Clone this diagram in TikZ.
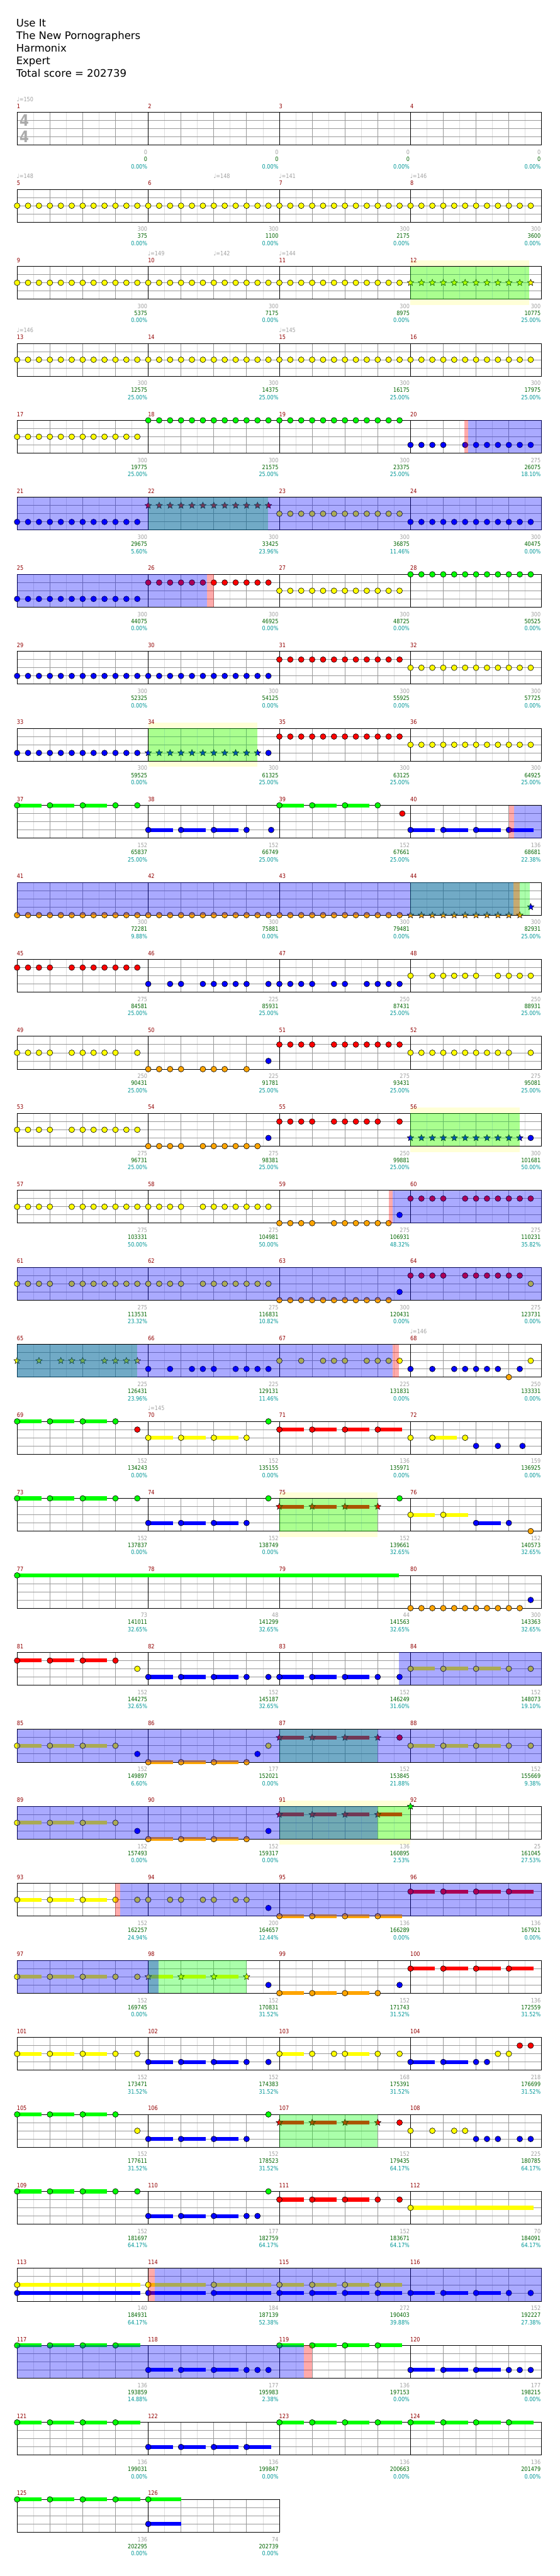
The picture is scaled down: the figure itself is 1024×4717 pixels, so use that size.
\documentclass[tikz,border=0pt]{standalone}
\usepackage{fontspec}
\setmainfont{DejaVu Sans}
\newfontfamily\chartfont[FakeStretch=0.85]{DejaVu Sans}
\usetikzlibrary{shapes.geometric}
\definecolor{lanegreen}{RGB}{0,255,0}
\definecolor{lanered}{RGB}{255,0,0}
\definecolor{laneyellow}{RGB}{255,255,0}
\definecolor{laneblue}{RGB}{0,0,255}
\definecolor{laneorange}{RGB}{255,165,0}
\colorlet{lane0}{lanegreen}
\colorlet{lane1}{lanered}
\colorlet{lane2}{laneyellow}
\colorlet{lane3}{laneblue}
\colorlet{lane4}{laneorange}
\definecolor{barred}{RGB}{145,0,0}
\definecolor{softgray}{RGB}{160,160,160}
\definecolor{tsgray}{RGB}{170,170,170}
\definecolor{totgreen}{RGB}{0,100,0}
\definecolor{pctteal}{RGB}{0,150,150}
\definecolor{subgray}{RGB}{221,221,221}
\definecolor{linegray}{RGB}{153,153,153}
\definecolor{bandyellow}{RGB}{255,255,215}

% x of bar #1 at offset #2, top of its staff
\newcommand\barpos[2]{%
  \pgfmathtruncatemacro\barrow{(#1-1)/4}%
  \pgfmathsetmacro\barx{31.3+240*mod(#1-1,4)+#2}%
  \pgfmathsetmacro\bary{205.7+141*\barrow}%
}
% one staff: row, number of bars
\newcommand\staffrow[2]{%
  \pgfmathsetmacro\rowtop{205.7+141*#1}%
  \pgfmathsetmacro\rowend{31.3+240*#2}%
  \foreach \j in {1,...,#2} {%
    \pgfmathsetmacro\xb{31.3+240*(\j-1)}%
    \foreach \o in {30,90,150,210}
      \draw[subbeat] ({\xb+\o},\rowtop) -- ({\xb+\o},{\rowtop+60});
  }%
  \foreach \l in {15,30,45}
    \draw[beatline] (31.3,{\rowtop+\l}) -- (\rowend,{\rowtop+\l});
  \foreach \j in {1,...,#2} {%
    \pgfmathsetmacro\xb{31.3+240*(\j-1)}%
    \foreach \o in {60,120,180}
      \draw[beatline] ({\xb+\o},\rowtop) -- ({\xb+\o},{\rowtop+60});
  }%
  \foreach \j in {2,...,#2} {%
    \pgfmathsetmacro\xb{31.3+240*(\j-1)}%
    \draw[barline] (\xb,\rowtop) -- (\xb,{\rowtop+60});
  }%
  \draw[barline] (31.3,\rowtop) rectangle (\rowend,{\rowtop+60});
}
% notes: bar, lane, offsets
\newcommand\gems[3]{%
  \foreach \o in {#3} {%
    \barpos{#1}{\o}%
    \filldraw[gem, fill=lane#2] (\barx,{\bary+15*#2}) circle[radius=5.2];
  }}
\newcommand\stargems[3]{%
  \foreach \o in {#3} {%
    \barpos{#1}{\o}%
    \node[spstar, fill=lane#2] (star#1x#2x\o) at (\barx,{\bary+15*#2}) {};
  }}
% sustain: bar, lane, from, to
\newcommand\tail[4]{%
  \barpos{#1}{#3}\let\tailx\barx
  \barpos{#1}{#4}%
  \draw[sustain, lane#2] (\tailx,{\bary+15*#2}) -- (\barx,{\bary+15*#2});}
\newcommand\tails[3]{\foreach \o in {#3} {\tail{#1}{#2}{\o}{\o+45}}}
% shaded zones: style, bar, offset, bar, offset
\newcommand\zone[5]{%
  \barpos{#2}{#3}\let\zonex\barx
  \barpos{#4}{#5}%
  \fill[#1] (\zonex,\bary) rectangle (\barx,{\bary+60});}
\newcommand\spband[4]{%
  \barpos{#1}{#2}\let\zonex\barx
  \barpos{#3}{#4}%
  \fill[bandfill] (\zonex,{\bary-10.5}) rectangle (\barx,{\bary+70.5});}

\begin{document}
\begin{tikzpicture}[x=1pt, y=-1pt,
    headline/.style={font=\fontsize{19}{23}\selectfont, inner sep=0pt, anchor=base west},
    barno/.style={font=\chartfont\fontsize{11}{11}\selectfont, text=barred, inner sep=0pt, anchor=base west},
    tempo/.style={font=\chartfont\fontsize{11}{11}\selectfont, text=softgray, inner sep=0pt, anchor=base west},
    maxpts/.style={font=\chartfont\fontsize{11}{11}\selectfont, text=softgray, inner sep=0pt, anchor=base east},
    totpts/.style={font=\chartfont\fontsize{11}{11}\selectfont, text=totgreen, inner sep=0pt, anchor=base east},
    pctpts/.style={font=\chartfont\fontsize{11}{11}\selectfont, text=pctteal, inner sep=0pt, anchor=base east},
    timesig/.style={font=\chartfont\bfseries\fontsize{29}{29}\selectfont, text=tsgray, inner sep=0pt},
    subbeat/.style={draw=subgray, line width=1pt},
    beatline/.style={draw=linegray, line width=1pt},
    barline/.style={draw=black, line width=1pt},
    gem/.style={draw=black, line width=0.7pt},
    spstar/.style={star, star points=5, star point ratio=2.2, draw=black, line width=0.6pt,
                   minimum size=12.5pt, inner sep=0pt},
    sustain/.style={line width=7pt},
    spzone/.style={fill=lanegreen, fill opacity=0.333},
    odzone/.style={fill=laneblue, fill opacity=0.333},
    odmark/.style={fill=lanered, fill opacity=0.333},
    bandfill/.style={fill=bandyellow}
]
    \useasboundingbox (0,0) rectangle (1024,4717);

    % Header
    \node[headline] (song)    at (29.5,49.3)  {Use It};
    \node[headline] (artist)  at (29.5,72.3)  {The New Pornographers};
    \node[headline] (charter) at (29.5,95.3)  {Harmonix};
    \node[headline] (level)   at (29.5,118.3) {Expert};
    \node[headline] (total)   at (29.5,141.3) {Total score = 202739};

    % Star power phrase bands (behind the staff)
    \spband{12}{0}{12}{217}
    \spband{34}{0}{34}{200}
    \spband{56}{0}{56}{200}
    \spband{75}{0}{75}{180}
    \spband{91}{0}{91}{240}

    % Staves
    \foreach \r in {0,...,30} {\staffrow{\r}{4}}
    \staffrow{31}{2}
    \node[timesig] (tsup)   at (44.5,220.4) {4};
    \node[timesig] (tsdown) at (44.5,250.3) {4};

    % Bars 5-17: yellow triplets
    \foreach \b in {5,...,11,13,14,15,16,17} {\gems{\b}{2}{0,20,40,60,80,100,120,140,160,180,200,220}}
    \stargems{12}{2}{0,20,40,60,80,100,120,140,160,180,200,220}
    \gems{18}{0}{0,20,40,60,80,100,120,140,160,180,200,220}
    \gems{19}{0}{0,20,40,60,80,100,120,140,160,180,200,220}
    \gems{20}{3}{0,20,40,60,100,120,140,160,180,200,220}
    % Bars 21-36
    \gems{21}{3}{0,20,40,60,80,100,120,140,160,180,200,220}
    \stargems{22}{1}{0,20,40,60,80,100,120,140,160,180,200,220}
    \gems{23}{2}{0,20,40,60,80,100,120,140,160,180,200,220}
    \gems{24}{3}{0,20,40,60,80,100,120,140,160,180,200,220}
    \gems{25}{3}{0,20,40,60,80,100,120,140,160,180,200,220}
    \gems{26}{1}{0,20,40,60,80,100,120,140,160,180,200,220}
    \gems{27}{2}{0,20,40,60,80,100,120,140,160,180,200,220}
    \gems{28}{0}{0,20,40,60,80,100,120,140,160,180,200,220}
    \gems{29}{3}{0,20,40,60,80,100,120,140,160,180,200,220}
    \gems{30}{3}{0,20,40,60,80,100,120,140,160,180,200,220}
    \gems{31}{1}{0,20,40,60,80,100,120,140,160,180,200,220}
    \gems{32}{2}{0,20,40,60,80,100,120,140,160,180,200,220}
    \gems{33}{3}{0,20,40,60,80,100,120,140,160,180,200,220}
    \stargems{34}{3}{0,20,40,60,80,100,120,140,160,180,200}
    \gems{34}{3}{220}
    \gems{35}{1}{0,20,40,60,80,100,120,140,160,180,200,220}
    \gems{36}{2}{0,20,40,60,80,100,120,140,160,180,200,220}
    % Bars 37-40
    \tails{37}{0}{0,60,120}\gems{37}{0}{0,60,120,180,220}
    \tails{38}{3}{0,60,120}\gems{38}{3}{0,60,120,180,225}
    \tails{39}{0}{0,60,120}\gems{39}{0}{0,60,120,180}\gems{39}{1}{225}
    \tails{40}{3}{0,60,120,180}\gems{40}{3}{0,60,120,180}
    % Bars 41-44
    \foreach \b in {41,42,43} {\gems{\b}{4}{0,20,40,60,80,100,120,140,160,180,200,220}}
    \stargems{44}{4}{0,20,40,60,80,100,120,140,160,180,200}
    \stargems{44}{3}{220}
    % Bars 45-64
    \gems{45}{1}{0,20,40,60,100,120,140,160,180,200,220}
    \gems{46}{3}{0,40,60,100,120,140,160,180,220}
    \gems{47}{3}{0,20,40,60,100,120,160,180,200,220}
    \gems{48}{2}{0,40,60,80,100,120,160,180,200,220}
    \gems{49}{2}{0,20,40,60,100,120,140,160,180,220}
    \gems{50}{4}{0,20,40,60,100,120,140,180}\gems{50}{3}{220}
    \gems{51}{1}{0,20,40,60,100,120,140,160,180,200,220}
    \gems{52}{2}{0,20,40,60,80,100,120,140,160,180,220}
    \gems{53}{2}{0,20,40,60,100,120,140,160,180,200,220}
    \gems{54}{4}{0,20,40,60,100,120,140,160,180,200}\gems{54}{3}{220}
    \gems{55}{1}{0,20,40,60,100,120,140,160,180,220}
    \stargems{56}{3}{0,20,40,60,80,100,120,140,160,180,200}
    \gems{56}{3}{220}
    \gems{57}{2}{0,20,40,60,100,120,140,160,180,200,220}
    \gems{58}{2}{0,20,40,60,100,120,140,160,180,200,220}
    \gems{59}{4}{0,20,40,60,100,120,140,160,180,200}\gems{59}{3}{220}
    \gems{60}{1}{0,20,40,60,100,120,140,160,180,200,220}
    \gems{61}{2}{0,20,40,60,100,120,140,160,180,200,220}
    \gems{62}{2}{0,20,40,60,100,120,140,160,180,200,220}
    \gems{63}{4}{0,20,40,60,80,100,120,140,160,180,200}\gems{63}{3}{220}
    \gems{64}{1}{0,20,40,60,100,120,140,160,180,200}\gems{64}{2}{220}
    % Bars 65-68
    \stargems{65}{2}{0,40,80,100,120,160,180,200,220}
    \gems{66}{3}{0,40,80,100,120,160,180,200,220}
    \gems{67}{2}{0,40,80,100,120,160,180,200,220}
    \gems{68}{3}{0,40,80,100,120,140,160,200}\gems{68}{4}{180}\gems{68}{2}{220}
    % Bars 69-76
    \tails{69}{0}{0,60,120}\gems{69}{0}{0,60,120,180}\gems{69}{1}{220}
    \tails{70}{2}{0,60,120}\gems{70}{2}{0,60,120,180}\gems{70}{0}{220}
    \tails{71}{1}{0,60,120,180}\gems{71}{1}{0,60,120,180}
    \tails{72}{2}{40}\gems{72}{2}{0,40,100}\gems{72}{3}{120,160,205}
    \tails{73}{0}{0,60,120}\gems{73}{0}{0,60,120,180,220}
    \tails{74}{3}{0,60,120}\gems{74}{3}{0,60,120,180}\gems{74}{0}{220}
    \tails{75}{1}{0,60,120}\stargems{75}{1}{0,60,120,180}\gems{75}{0}{220}
    \tails{76}{2}{0,60}\gems{76}{2}{0,60}
    \tails{76}{3}{120}\gems{76}{3}{120,180}\gems{76}{4}{220}
    % Bars 77-80
    \tail{77}{0}{0}{699}\gems{77}{0}{0}
    \gems{80}{4}{0,20,40,60,80,100,120,140,160,180,200}\gems{80}{3}{220}
    % Bars 81-92
    \tails{81}{1}{0,60,120}\gems{81}{1}{0,60,120,180}\gems{81}{2}{220}
    \tails{82}{3}{0,60,120}\gems{82}{3}{0,60,120,180,220}
    \tails{83}{3}{0,60,120}\gems{83}{3}{0,60,120,180,220}
    \tails{84}{2}{0,60,120}\gems{84}{2}{0,60,120,180,220}
    \tails{85}{2}{0,60,120}\gems{85}{2}{0,60,120,180}\gems{85}{3}{220}
    \tails{86}{4}{0,60,120}\gems{86}{4}{0,60,120,180}\gems{86}{3}{200}\gems{86}{2}{220}
    \tails{87}{1}{0,60,120}\stargems{87}{1}{0,60,120,180}\gems{87}{1}{220}
    \tails{88}{2}{0,60,120}\gems{88}{2}{0,60,120,180,220}
    \tails{89}{2}{0,60,120}\gems{89}{2}{0,60,120,180}\gems{89}{3}{220}
    \tails{90}{4}{0,60,120}\gems{90}{4}{0,60,120,180}\gems{90}{3}{220}
    \tails{91}{1}{0,60,120,180}\stargems{91}{1}{0,60,120,180}
    \stargems{92}{0}{0}
    % Bars 93-104
    \tails{93}{2}{0,60,120}\gems{93}{2}{0,60,120,180,220}
    \gems{94}{2}{0,40,60,100,120,160,180}\gems{94}{3}{220}
    \tails{95}{4}{0,60,120,180}\gems{95}{4}{0,60,120,180}
    \tails{96}{1}{0,60,120,180}\gems{96}{1}{0,60,120,180}
    \tails{97}{2}{0,60,120}\gems{97}{2}{0,60,120,180,220}
    \tails{98}{2}{0,60,120}\stargems{98}{2}{0,60,120,180}\gems{98}{3}{220}
    \tails{99}{4}{0,60,120}\gems{99}{4}{0,60,120,180}\gems{99}{3}{220}
    \tails{100}{1}{0,60,120,180}\gems{100}{1}{0,60,120,180}
    \tails{101}{2}{0,60,120}\gems{101}{2}{0,60,120,180,220}
    \tails{102}{3}{0,60,120}\gems{102}{3}{0,60,120,180,220}
    \tails{103}{2}{0,120}\gems{103}{2}{0,60,100,120,180,220}
    \tails{104}{3}{0,60}\gems{104}{3}{0,60,120,140}\gems{104}{2}{160,180}\gems{104}{1}{200,220}
    % Bars 105-116
    \tails{105}{0}{0,60,120}\gems{105}{0}{0,60,120,180}\gems{105}{2}{220}
    \tails{106}{3}{0,60,120}\gems{106}{3}{0,60,120,180}\gems{106}{0}{220}
    \tails{107}{1}{0,60,120}\stargems{107}{1}{0,60,120,180}\gems{107}{1}{220}
    \gems{108}{2}{0,40,80,100}\gems{108}{3}{120,140,160,200,220}
    \tails{109}{0}{0,60,120}\gems{109}{0}{0,60,120,180,220}
    \tails{110}{3}{0,60,120}\gems{110}{3}{0,60,120,180,200}\gems{110}{0}{220}
    \tails{111}{1}{0,60,120}\gems{111}{1}{0,60,120,180,220}
    \tail{112}{2}{0}{225}\gems{112}{2}{0}
    \tail{113}{2}{0}{225}\tail{113}{3}{0}{225}\gems{113}{2}{0}\gems{113}{3}{0}
    \tail{114}{2}{0}{105}\tail{114}{2}{120}{225}\tail{114}{3}{0}{105}\tail{114}{3}{120}{225}
    \gems{114}{2}{0,120}\gems{114}{3}{0,120}
    \tails{115}{2}{0,60,120,180}\tails{115}{3}{0,60,120,180}
    \gems{115}{2}{0,60,120,180}\gems{115}{3}{0,60,120,180}
    \tails{116}{3}{0,60,120}\gems{116}{3}{0,60,120,180,220}
    % Bars 117-126
    \tails{117}{0}{0,60,120,180}\gems{117}{0}{0,60,120,180}
    \tails{118}{3}{0,60,120}\gems{118}{3}{0,60,120,180,200,220}
    \tails{119}{0}{0,60,120,180}\gems{119}{0}{0,60,120,180}
    \tails{120}{3}{0,60,120}\gems{120}{3}{0,60,120,180,200,220}
    \tails{121}{0}{0,60,120,180}\gems{121}{0}{0,60,120,180}
    \tails{122}{3}{0,60,120,180}\gems{122}{3}{0,60,120,180}
    \tails{123}{0}{0,60,120,180}\gems{123}{0}{0,60,120,180}
    \tails{124}{0}{0,60,120,180}\gems{124}{0}{0,60,120,180}
    \tails{125}{0}{0,60,120,180}\gems{125}{0}{0,60,120,180}
    \tail{126}{0}{0}{60}\tail{126}{3}{0}{60}\gems{126}{0}{0}\gems{126}{3}{0}

    % Star power zones
    \zone{spzone}{12}{0}{12}{217}
    \zone{spzone}{22}{0}{22}{219.4}
    \zone{spzone}{34}{0}{34}{200}
    \zone{spzone}{44}{0}{44}{218.7}
    \zone{spzone}{56}{0}{56}{200}
    \zone{spzone}{65}{0}{65}{219.5}
    \zone{spzone}{75}{0}{75}{180}
    \zone{spzone}{87}{0}{87}{180}
    \zone{spzone}{91}{0}{91}{240}
    \zone{spzone}{98}{0}{98}{180}
    \zone{spzone}{107}{0}{107}{180}

    % Overdrive zones
    \zone{odzone}{20}{105.7}{20}{240}
    \zone{odzone}{21}{0}{24}{240}
    \zone{odzone}{25}{0}{26}{107.5}
    \zone{odzone}{40}{189.2}{40}{240}
    \zone{odzone}{41}{0}{44}{187.9}
    \zone{odzone}{59}{207.2}{60}{240}
    \zone{odzone}{61}{0}{64}{240}
    \zone{odzone}{65}{0}{67}{207.2}
    \zone{odzone}{83}{218.9}{84}{240}
    \zone{odzone}{85}{0}{88}{240}
    \zone{odzone}{89}{0}{91}{180}
    \zone{odzone}{93}{188.8}{96}{240}
    \zone{odzone}{97}{0}{98}{18.7}
    \zone{odzone}{114}{12.2}{116}{240}
    \zone{odzone}{117}{0}{119}{44.5}
    \zone{odmark}{20}{98.7}{20}{105.7}
    \zone{odmark}{26}{107.5}{26}{119.9}
    \zone{odmark}{40}{180.7}{40}{189.2}
    \zone{odmark}{44}{187.9}{44}{199.7}
    \zone{odmark}{59}{200.7}{59}{207.2}
    \zone{odmark}{67}{207.2}{67}{218.9}
    \zone{odmark}{93}{179.7}{93}{188.8}
    \zone{odmark}{114}{0}{114}{12.2}
    \zone{odmark}{119}{44.5}{119}{60.2}

    % Tempo marks
    \foreach \m/\o/\bpm in {1/0/150, 5/0/148, 6/120/148, 7/0/141, 8/0/146, 10/0/149, 10/120/142,
        11/0/144, 13/0/146, 15/0/145, 68/0/146, 70/0/145} {
      \barpos{\m}{\o}
      \node[tempo] (tempo\m x\o) at ({\barx-0.5},{\bary-20}) {♩=\bpm};
    }

    % Bar numbers and scores
    \foreach \m/\mxp/\tot/\pct in {1/0/0/0.00, 2/0/0/0.00, 3/0/0/0.00, 4/0/0/0.00,
        5/300/375/0.00, 6/300/1100/0.00, 7/300/2175/0.00, 8/300/3600/0.00,
        9/300/5375/0.00, 10/300/7175/0.00, 11/300/8975/0.00, 12/300/10775/25.00,
        13/300/12575/25.00, 14/300/14375/25.00, 15/300/16175/25.00, 16/300/17975/25.00,
        17/300/19775/25.00, 18/300/21575/25.00, 19/300/23375/25.00, 20/275/26075/18.10,
        21/300/29675/5.60, 22/300/33425/23.96, 23/300/36875/11.46, 24/300/40475/0.00,
        25/300/44075/0.00, 26/300/46925/0.00, 27/300/48725/0.00, 28/300/50525/0.00,
        29/300/52325/0.00, 30/300/54125/0.00, 31/300/55925/0.00, 32/300/57725/0.00,
        33/300/59525/0.00, 34/300/61325/25.00, 35/300/63125/25.00, 36/300/64925/25.00,
        37/152/65837/25.00, 38/152/66749/25.00, 39/152/67661/25.00, 40/136/68681/22.38,
        41/300/72281/9.88, 42/300/75881/0.00, 43/300/79481/0.00, 44/300/82931/25.00,
        45/275/84581/25.00, 46/225/85931/25.00, 47/250/87431/25.00, 48/250/88931/25.00,
        49/250/90431/25.00, 50/225/91781/25.00, 51/275/93431/25.00, 52/275/95081/25.00,
        53/275/96731/25.00, 54/275/98381/25.00, 55/250/99881/25.00, 56/300/101681/50.00,
        57/275/103331/50.00, 58/275/104981/50.00, 59/275/106931/48.32, 60/275/110231/35.82,
        61/275/113531/23.32, 62/275/116831/10.82, 63/300/120431/0.00, 64/275/123731/0.00,
        65/225/126431/23.96, 66/225/129131/11.46, 67/225/131831/0.00, 68/250/133331/0.00,
        69/152/134243/0.00, 70/152/135155/0.00, 71/136/135971/0.00, 72/159/136925/0.00,
        73/152/137837/0.00, 74/152/138749/0.00, 75/152/139661/32.65, 76/152/140573/32.65,
        77/73/141011/32.65, 78/48/141299/32.65, 79/44/141563/32.65, 80/300/143363/32.65,
        81/152/144275/32.65, 82/152/145187/32.65, 83/152/146249/31.60, 84/152/148073/19.10,
        85/152/149897/6.60, 86/177/152021/0.00, 87/152/153845/21.88, 88/152/155669/9.38,
        89/152/157493/0.00, 90/152/159317/0.00, 91/136/160895/2.53, 92/25/161045/27.53,
        93/152/162257/24.94, 94/200/164657/12.44, 95/136/166289/0.00, 96/136/167921/0.00,
        97/152/169745/0.00, 98/152/170831/31.52, 99/152/171743/31.52, 100/136/172559/31.52,
        101/152/173471/31.52, 102/152/174383/31.52, 103/168/175391/31.52, 104/218/176699/31.52,
        105/152/177611/31.52, 106/152/178523/31.52, 107/152/179435/64.17, 108/225/180785/64.17,
        109/152/181697/64.17, 110/177/182759/64.17, 111/152/183671/64.17, 112/70/184091/64.17,
        113/140/184931/64.17, 114/184/187139/52.38, 115/272/190403/39.88, 116/152/192227/27.38,
        117/136/193859/14.88, 118/177/195983/2.38, 119/136/197153/0.00, 120/177/198215/0.00,
        121/136/199031/0.00, 122/136/199847/0.00, 123/136/200663/0.00, 124/136/201479/0.00,
        125/136/202295/0.00, 126/74/202739/0.00} {
      \barpos{\m}{0}
      \node[barno] (bar\m) at ({\barx-0.5},{\bary-7.3}) {\m};
      \node[maxpts] (max\m) at ({\barx+238.5},{\bary+77}) {\mxp};
      \node[totpts] (tot\m) at ({\barx+238.5},{\bary+89.7}) {\tot};
      \node[pctpts] (pct\m) at ({\barx+238.5},{\bary+103}) {\pct\%};
    }
\end{tikzpicture}
\end{document}
